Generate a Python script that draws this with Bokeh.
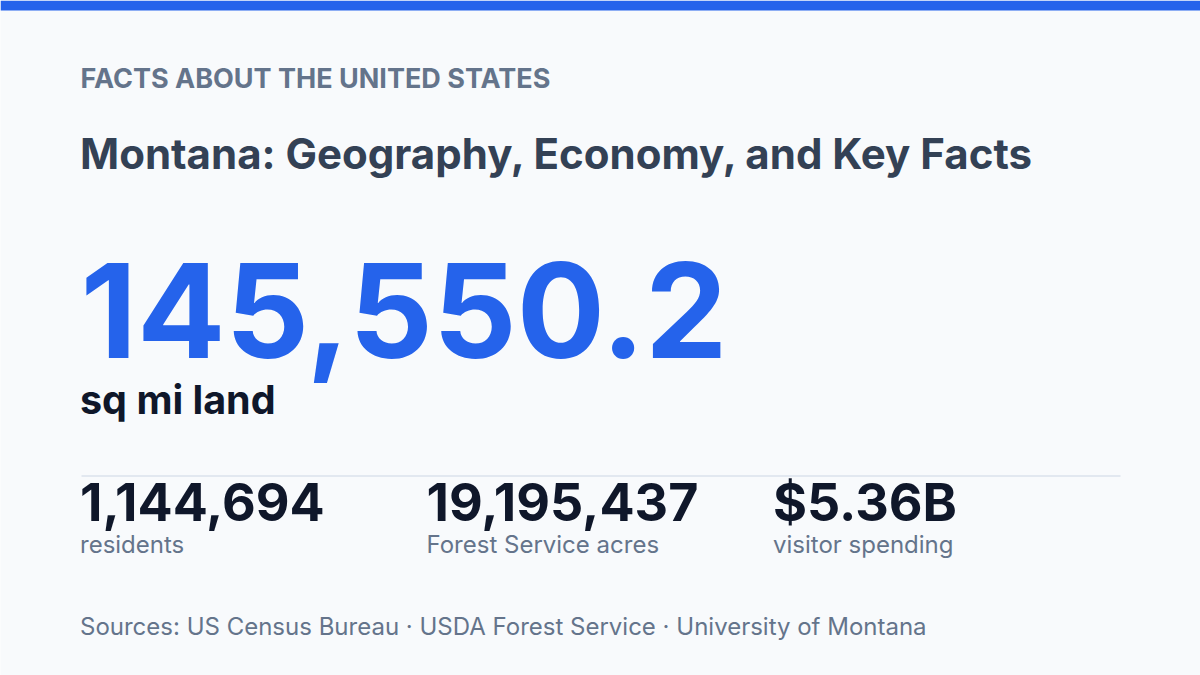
from bokeh.plotting import figure
from bokeh.models import Range1d
from bokeh.core.properties import value
from bokeh.embed import file_html
from bokeh.resources import INLINE

# ---- content ----
kicker = "FACTS ABOUT THE UNITED STATES"
title = "Montana: Geography, Economy, and Key Facts"
hero_value = "145,550.2"
hero_label = "sq mi land"
stat_values = ["1,144,694", "19,195,437", "$5.36B"]
stat_labels = ["residents", "Forest Service acres", "visitor spending"]
sources = "Sources: US Census Bureau \u00b7 USDA Forest Service \u00b7 University of Montana"

# ---- layout ----
W, H = 1200, 675
LEFT = 79.5
COL_STEP = 346.5
SHIFT = 0.38  # bokeh svg alphabetic baseline correction (em)
FONT = value("Inter")

BG = "#f8fafc"
BLUE = "#2563eb"
SLATE_900 = "#0f172a"
SLATE_700 = "#334155"
SLATE_500 = "#64748b"
SLATE_200 = "#e2e8f0"

p = figure(width=W, height=H, output_backend="svg", toolbar_location=None,
           x_range=Range1d(0, W), y_range=Range1d(H, 0),
           min_border=0, outline_line_color=None)
p.axis.visible = False
p.grid.visible = False
p.background_fill_color = BG
p.border_fill_color = BG

# top accent bar
p.quad(left=[0], right=[W], top=[0], bottom=[10], fill_color=BLUE, line_color=None)

def base(y, size):
    return y - SHIFT * size

def txt(x, y, s, size, color, style="normal"):
    p.text(x=[x], y=[base(y, size)], text=[s], text_font=FONT,
           text_font_size=f"{size}px", text_color=color, text_font_style=style,
           text_align="left", text_baseline="alphabetic")

txt(LEFT + 0.5, 88, kicker, 27, SLATE_500, "bold")
txt(LEFT, 168.5, title, 42, SLATE_700, "bold")
txt(LEFT + 0.5, 360, hero_value, 131, BLUE, "bold")
txt(LEFT, 415, hero_label, 39.5, SLATE_900, "bold")

# divider
p.segment(x0=[81], x1=[1120], y0=[475.5], y1=[475.5],
          line_color=SLATE_200, line_width=2)

xs = [LEFT + i * COL_STEP for i in range(len(stat_values))]
p.text(x=xs, y=[base(521.5, 52)] * len(xs), text=stat_values, text_font=FONT,
       text_font_size="52px", text_color=SLATE_900, text_font_style="bold",
       text_align="left", text_baseline="alphabetic")
p.text(x=xs, y=[base(553, 24)] * len(xs), text=stat_labels, text_font=FONT,
       text_font_size="24px", text_color=SLATE_500, text_align="left",
       text_baseline="alphabetic")

txt(LEFT, 635, sources, 24, SLATE_500)

open("out.html", "w").write(file_html(p, INLINE))
